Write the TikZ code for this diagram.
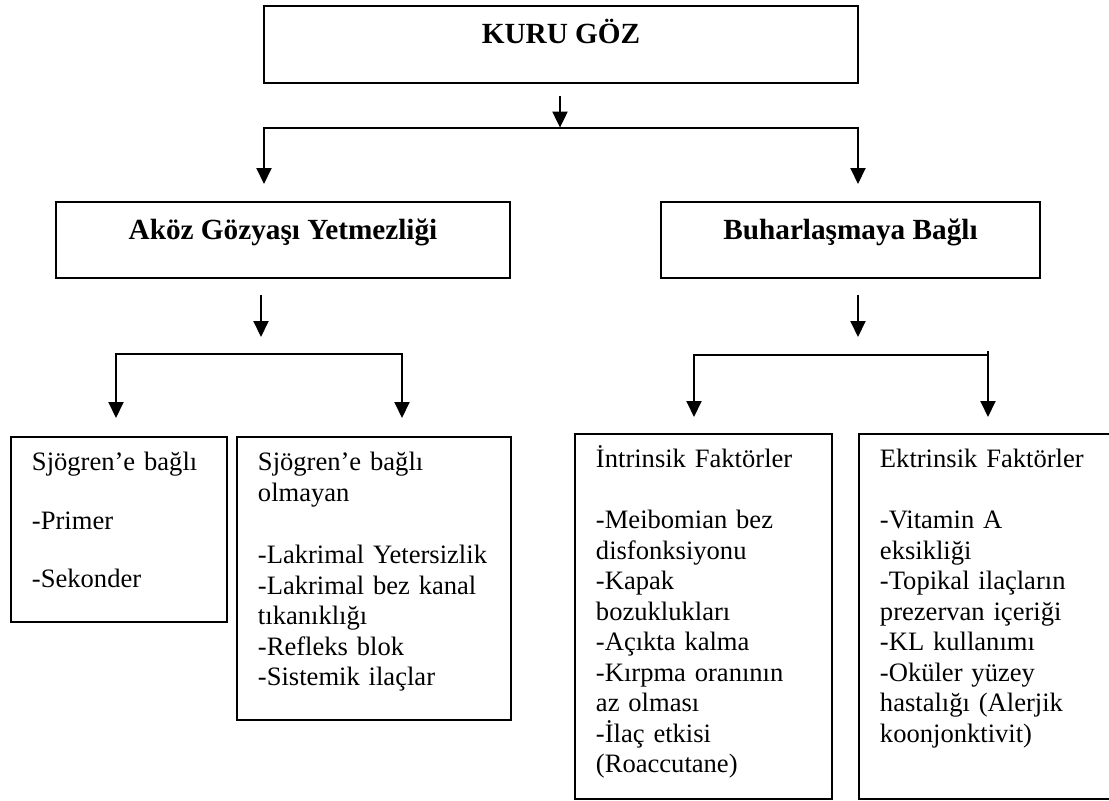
\documentclass[tikz,border=0pt]{standalone}
\usepackage{fontspec}
\setmainfont{Liberation Serif}
\usetikzlibrary{arrows.meta}

\tikzset{
  headtip/.tip={Triangle[width=0.375cm,length=0.4cm]},
  arr/.style={-headtip},
  fork/.style={headtip-headtip},
  headbox/.style={draw, inner sep=0pt, anchor=north, text height=0.95cm, font=\fontsize{20.8}{24}\selectfont\bfseries},
  listbox/.style={draw, inner xsep=0.525cm, inner ysep=0pt, align=left, anchor=north west, text height=0.85cm, font=\fontsize{18.9}{21.7}\selectfont}
}

\begin{document}
\begin{tikzpicture}[line width=1.4pt]
        \useasboundingbox (0,0) rectangle (27.725,-20.025);

        \node[headbox, minimum width=14.85cm, text depth=0.975cm] (kuru) at (14.025,-0.125) {KURU GÖZ};
        \node[headbox, minimum width=11.35cm, text depth=0.95cm] (akoz) at (7.075,-5.025) {Aköz Gözyaşı Yetmezliği};
        \node[headbox, minimum width=9.475cm, text depth=0.95cm] (buhar) at (21.2625,-5.025) {Buharlaşmaya Bağlı};

        \node[listbox, text width=4.35cm, text depth=3.775cm] (sjogren) at (0.25,-10.9) {Sjögren’e bağlı\\[0.69cm] -Primer\\[0.69cm] -Sekonder};
        \node[listbox, text width=5.8cm, text depth=6.225cm] (nonsjogren) at (5.9,-10.9) {Sjögren’e bağlı\\ olmayan\\[0.79cm] -Lakrimal Yetersizlik\\ -Lakrimal bez kanal\\ tıkanıklığı\\ -Refleks blok\\ -Sistemik ilaçlar};
        \node[listbox, text width=5.375cm, text depth=8.275cm] (intrinsik) at (14.35,-10.825) {İntrinsik Faktörler\\[0.75cm] -Meibomian bez\\ disfonksiyonu\\ -Kapak\\ bozuklukları\\ -Açıkta kalma\\ -Kırpma oranının\\ az olması\\ -İlaç etkisi\\ (Roaccutane)};
        \node[listbox, text width=5.3cm, text depth=8.275cm] (ektrinsik) at (21.45,-10.825) {Ektrinsik Faktörler\\[0.75cm] -Vitamin A\\ eksikliği\\ -Topikal ilaçların\\ prezervan içeriği\\ -KL kullanımı\\ -Oküler yüzey\\ hastalığı (Alerjik\\ koonjonktivit)};

        % split points
        \coordinate (s0) at (14,-3.19);
        \coordinate (s0l) at (6.6,-3.19);
        \coordinate (s0r) at (21.45,-3.19);
        \coordinate (s1) at (6.525,-8.85);
        \coordinate (s1l) at (2.9,-8.85);
        \coordinate (s1r) at (10.05,-8.85);
        \coordinate (s2) at (21.45,-8.875);
        \coordinate (s2l) at (17.35,-8.875);
        \coordinate (s2r) at (24.7,-8.875);

        \draw[arr, shorten <=0.3cm] (kuru.south -| s0) -- (s0);
        \draw[fork, shorten <=0.425cm, shorten >=0.425cm] (s0l |- akoz.north) -- (s0l) -- (s0r) -- (s0r |- buhar.north);

        \draw[arr, shorten <=0.4cm, shorten >=0.425cm] (akoz.south -| s1) -- (s1);
        \draw[fork, shorten <=0.45cm, shorten >=0.45cm] (s1l |- sjogren.north) -- (s1l) -- (s1r) -- (s1r |- nonsjogren.north);

        \draw[arr, shorten <=0.4cm, shorten >=0.45cm] (buhar.south -| s2) -- (s2);
        \draw[fork, shorten <=0.4cm, shorten >=0.4cm] (s2l |- intrinsik.north) -- (s2l) -- (s2r) -- (s2r |- ektrinsik.north);
        \draw (s2r) -- ++(0,0.1);
\end{tikzpicture}
\end{document}
